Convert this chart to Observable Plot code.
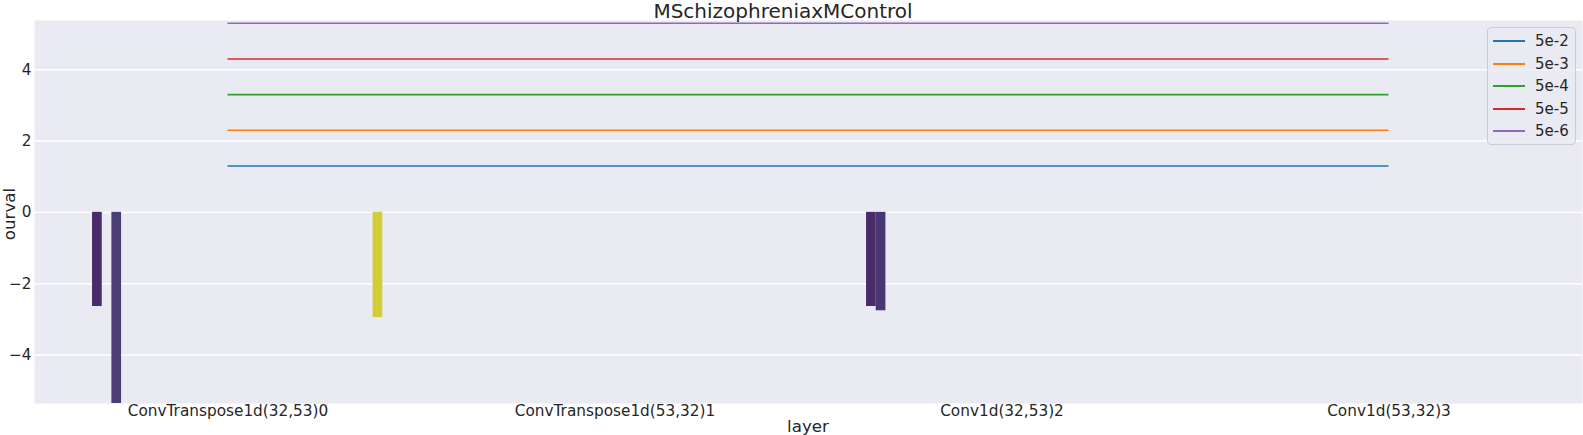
<!DOCTYPE html>
<html>
<head>
<meta charset="utf-8">
<script src="https://cdn.jsdelivr.net/npm/d3@7"></script>
<script src="https://cdn.jsdelivr.net/npm/@observablehq/plot@0.6"></script>
<style>
  body { margin: 0; background: #ffffff; font-family: "DejaVu Sans", sans-serif; color: #262626; }
  #wrap { position: relative; width: 1583px; height: 435px; overflow: hidden; }
  #chart { position: absolute; left: 0; top: 0; }
  .lbl { position: absolute; white-space: nowrap; text-align: center; color: #262626; }
  #legend { position: absolute; left: 1487px; top: 27px; width: 89px; height: 118px; box-sizing: border-box;
            border: 1px solid #cccccc; border-radius: 4px; background: rgba(234,234,242,0.8); }
  .row { position: absolute; left: 0; height: 22px; width: 89px; }
  .row .sw { position: absolute; left: 5px; top: 10px; width: 32px; height: 2px; }
  .row .tx { position: absolute; left: 47px; top: 0; font-size: 15px; line-height: 22px; color: #262626; }
</style>
</head>
<body>
<div id="wrap">
  <div id="chart"></div>
</div>
<script>
// ---- data ----
const title = "MSchizophreniaxMControl";
const xLabel = "layer";
const yLabel = "ourval";
const layers = ["ConvTranspose1d(32,53)0", "ConvTranspose1d(53,32)1", "Conv1d(32,53)2", "Conv1d(53,32)3"];
const hueCount = 32;
const barLayer = [0, 0, 0, 2, 2];
const barHue   = [2, 4, 31, 2, 3];
const barValue = [-2.64, -5.37, -2.95, -2.64, -2.76];
const thresholdLabels = ["5e-2", "5e-3", "5e-4", "5e-5", "5e-6"];
const thresholdValues = [1.301, 2.301, 3.301, 4.301, 5.301];
const yTicks = [-4, -2, 0, 2, 4];

// ---- derived tables ----
const bars = barValue.map((v, i) => ({layer: barLayer[i], hue: barHue[i], value: v}));
const rules = thresholdValues.map((v, i) => ({label: thresholdLabels[i], value: v}));
const lineColors = ["#1f77b4", "#ff7f0e", "#2ca02c", "#d62728", "#9467bd"];
const hueColors = d3.range(hueCount).map(k => {
  const c = d3.hsl(d3.interpolateViridis((k + 1) / (hueCount + 1)));
  c.s *= 0.75;
  return c.formatHex();
});
const slot = 0.8 / hueCount;

const chart = Plot.plot({
  width: 1583,
  height: 435,
  marginLeft: 34,
  marginRight: 1,
  marginTop: 20,
  marginBottom: 32,
  style: {fontFamily: "DejaVu Sans", fontSize: "15.3px", color: "#262626", background: "transparent", overflow: "visible"},
  x: {type: "linear", domain: [-0.5, layers.length - 0.5], ticks: d3.range(layers.length),
      tickFormat: i => layers[i], tickSize: 0, tickPadding: 2, label: null},
  y: {domain: [-5.36, 5.38], ticks: yTicks, tickFormat: d => d < 0 ? "\u2212" + Math.abs(d) : String(d),
      tickSize: 0, tickPadding: 3, label: null},
  color: {type: "ordinal", domain: d3.range(hueCount), range: hueColors},
  marks: [
    Plot.frame({fill: "#eaeaf2", stroke: null}),
    Plot.gridY(yTicks, {stroke: "#ffffff", strokeOpacity: 1, strokeWidth: 1.4}),
    Plot.rectY(bars, {
      x1: d => d.layer - 0.4 + d.hue * slot,
      x2: d => d.layer - 0.4 + (d.hue + 1) * slot,
      y: "value", fill: "hue", clip: true
    }),
    ...rules.map((r, i) => Plot.ruleY([r], {
      y: "value", x1: () => 0, x2: () => layers.length - 1,
      stroke: lineColors[i], strokeWidth: 1.6
    }))
  ]
});
document.getElementById("chart").appendChild(chart);

const wrap = document.getElementById("wrap");
function addLabel(text, css) {
  const d = document.createElement("div");
  d.className = "lbl";
  d.textContent = text;
  Object.assign(d.style, css);
  wrap.appendChild(d);
}
addLabel(title, {left: "0px", top: "0px", width: "1566px", fontSize: "20px", lineHeight: "22px"});
addLabel(xLabel, {left: "708px", top: "418px", width: "200px", fontSize: "16.7px", lineHeight: "16.7px"});
addLabel(yLabel, {left: "-41px", top: "207px", width: "100px", height: "14px", fontSize: "16.7px",
                  lineHeight: "14px", transform: "rotate(-90deg)"});

const legend = document.createElement("div");
legend.id = "legend";
thresholdLabels.forEach((lab, i) => {
  const row = document.createElement("div");
  row.className = "row";
  row.style.top = (2 + i * 22.5) + "px";
  const sw = document.createElement("div");
  sw.className = "sw";
  sw.style.background = lineColors[i];
  const tx = document.createElement("div");
  tx.className = "tx";
  tx.textContent = lab;
  row.appendChild(sw);
  row.appendChild(tx);
  legend.appendChild(row);
});
wrap.appendChild(legend);
</script>
</body>
</html>
